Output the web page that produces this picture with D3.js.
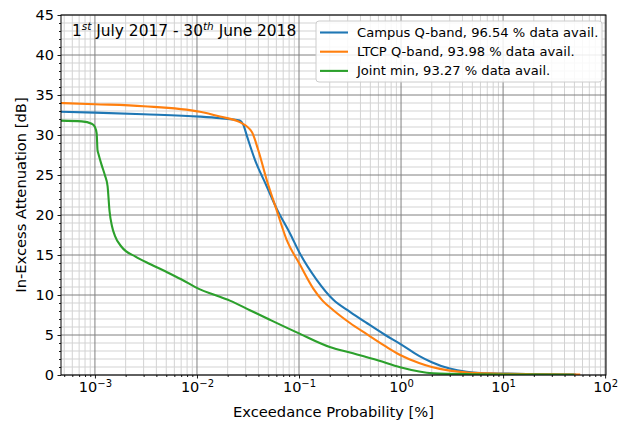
<!DOCTYPE html>
<html lang="en">
<head>
  <meta charset="UTF-8">
  <title>Exceedance</title>
  <style>
    body { margin: 0; background: #fff; }
    svg { font-family: "DejaVu Sans", sans-serif; display: block; }
  </style>
</head>
<body>
  <svg class="chart"></svg>
  <script src="https://cdn.jsdelivr.net/npm/d3@7"></script>
  <script>
    // exceedance probability [%] and attenuation [dB]
    let campusP = [4.65e-4, 0.001, 0.003, 0.0107, 0.0168, 0.0263, 0.0284, 0.0310, 0.0370, 0.0482, 0.0604, 0.0816, 0.102, 0.149, 0.217, 0.316, 0.461, 0.7, 0.98, 1.5, 2.0, 3.0, 4.4, 6, 10, 20, 52]
    let campusA = [32.9, 32.8, 32.6, 32.3, 32.1, 31.8, 31.3, 29.8, 26.9, 23.6, 20.8, 17.7, 15.2, 11.9, 9.4, 7.9, 6.5, 5.0, 3.9, 2.4, 1.6, 0.8, 0.4, 0.25, 0.18, 0.12, 0.05]

    let ltcpP = [4.65e-4, 0.001, 0.003, 0.0107, 0.0168, 0.0263, 0.0344, 0.0399, 0.0482, 0.0604, 0.0757, 0.102, 0.138, 0.17, 0.217, 0.316, 0.461, 0.7, 0.98, 1.5, 2.0, 3.0, 4.5, 7, 10, 20, 57]
    let ltcpA = [34.0, 33.85, 33.6, 32.9, 32.3, 31.6, 30.4, 28.1, 24.4, 20.6, 16.9, 13.8, 10.8, 9.3, 8.1, 6.5, 5.1, 3.6, 2.5, 1.5, 1.0, 0.55, 0.3, 0.2, 0.15, 0.1, 0.05]

    let jointP = [4.65e-4, 7.4e-4, 9.3e-4, 0.001, 0.00104, 0.00106, 0.00108, 0.00116, 0.00125, 0.00133, 0.00139, 0.00147, 0.00157, 0.00183, 0.0025, 0.0035, 0.005, 0.007, 0.0107, 0.015, 0.021, 0.033, 0.05, 0.1, 0.2, 0.316, 0.6, 0.98, 2.06, 5, 20, 50]
    let jointA = [31.8, 31.7, 31.4, 31.0, 30.2, 28.1, 27.7, 26.3, 25.0, 23.6, 20.5, 18.6, 17.4, 16.0, 14.8, 13.85, 12.9, 11.97, 10.7, 10.0, 9.3, 8.1, 7.0, 5.2, 3.5, 2.8, 1.8, 0.96, 0.2, 0.1, 0.05, 0.03]

    let seriesNames = ['Campus Q-band, 96.54 % data avail.', 'LTCP Q-band, 93.98 % data avail.', 'Joint min, 93.27 % data avail.']
    let colors = ['#1f77b4', '#ff7f0e', '#2ca02c']
    let xMajor = [1e-3, 1e-2, 1e-1, 1e0, 1e1, 1e2]
    let yMajor = [0, 5, 10, 15, 20, 25, 30, 35, 40, 45]

    let svgWidth = 626, svgHeight = 424
    let margin = { top: 15, right: 20, bottom: 49, left: 61 }
    let width = svgWidth - margin.left - margin.right
    let height = svgHeight - margin.top - margin.bottom

    let svg = d3.select('svg')
      .attr('width', svgWidth)
      .attr('height', svgHeight)

    let g = svg.append('g')
      .attr('transform', `translate(${margin.left},${margin.top})`)

    let x = d3.scaleLog().domain([4.65e-4, 102]).range([0, width])
    let y = d3.scaleLinear().domain([0, 45]).range([height, 0])

    // minor values
    let xMinor = []
    for (let e = -4; e <= 2; e++) {
      for (let m = 2; m <= 9; m++) {
        let v = m * Math.pow(10, e)
        if (v >= x.domain()[0] && v <= x.domain()[1]) xMinor.push(v)
      }
    }
    let yMinor = d3.range(0, 46).filter(v => v % 5 !== 0)

    // grid
    let grid = g.append('g')
    grid.selectAll('.vmin').data(xMinor).enter().append('line')
      .attr('x1', d => x(d)).attr('x2', d => x(d))
      .attr('y1', 0).attr('y2', height)
      .attr('stroke', '#d3d3d3').attr('stroke-width', 1)
    grid.selectAll('.hmin').data(yMinor).enter().append('line')
      .attr('x1', 0).attr('x2', width)
      .attr('y1', d => y(d)).attr('y2', d => y(d))
      .attr('stroke', '#d3d3d3').attr('stroke-width', 1)
    grid.selectAll('.vmaj').data(xMajor).enter().append('line')
      .attr('x1', d => x(d)).attr('x2', d => x(d))
      .attr('y1', 0).attr('y2', height)
      .attr('stroke', '#808080').attr('stroke-width', 1)
    grid.selectAll('.hmaj').data(yMajor).enter().append('line')
      .attr('x1', 0).attr('x2', width)
      .attr('y1', d => y(d)).attr('y2', d => y(d))
      .attr('stroke', '#808080').attr('stroke-width', 1)

    // curves
    let line = d3.line()
      .x(d => x(d[0]))
      .y(d => y(d[1]))
      .curve(d3.curveMonotoneX)

    let series = [
      d3.zip(campusP, campusA),
      d3.zip(ltcpP, ltcpA),
      d3.zip(jointP, jointA)
    ]

    g.append('defs').append('clipPath').attr('id', 'clip')
      .append('rect').attr('width', width).attr('height', height)

    g.append('g').attr('clip-path', 'url(#clip)')
      .selectAll('path').data(series).enter().append('path')
      .attr('d', line)
      .attr('fill', 'none')
      .attr('stroke', (d, i) => colors[i])
      .attr('stroke-width', 2.1)
      .attr('stroke-linejoin', 'round')

    // axes
    let xAxis = g.append('g')
      .attr('transform', `translate(0,${height})`)
      .call(d3.axisBottom(x).tickValues(xMajor).tickSize(3.5).tickPadding(3.5).tickFormat(''))
    g.append('g')
      .attr('transform', `translate(0,${height})`)
      .call(d3.axisBottom(x).tickValues(xMinor).tickSize(2).tickFormat(''))
    let yAxis = g.append('g')
      .call(d3.axisLeft(y).tickValues(yMajor).tickSize(3.5).tickPadding(3.5))
    g.append('g')
      .call(d3.axisLeft(y).tickValues(yMinor).tickSize(2).tickFormat(''))

    g.selectAll('.domain').remove()
    g.selectAll('.tick line').attr('stroke', '#000').attr('stroke-width', 0.9)

    yAxis.selectAll('text').attr('font-size', 14.5).attr('fill', '#000')
      .attr('font-family', '"DejaVu Sans", sans-serif')

    xAxis.selectAll('.tick text').each(function (d) {
      let t = d3.select(this)
        .attr('font-size', 14.5).attr('fill', '#000')
        .attr('font-family', '"DejaVu Sans", sans-serif')
        .attr('dy', '0.71em')
      t.append('tspan').text('10')
      t.append('tspan').attr('font-size', 10).attr('dy', '-0.55em')
        .text(String(Math.round(Math.log10(d))).replace('-', '\u2212'))
    })

    // frame
    g.append('rect')
      .attr('width', width).attr('height', height)
      .attr('fill', 'none').attr('stroke', '#000').attr('stroke-width', 1)

    // title
    let title = g.append('text')
      .attr('x', 11).attr('y', 21)
      .attr('font-size', 15.4).attr('fill', '#000')
    title.append('tspan').text('1')
    title.append('tspan').attr('font-size', 10.5).attr('font-style', 'italic').attr('dy', -6).text('st')
    title.append('tspan').attr('dy', 6).text(' July 2017 - 30')
    title.append('tspan').attr('font-size', 10.5).attr('font-style', 'italic').attr('dy', -6).text('th')
    title.append('tspan').attr('dy', 6).text(' June 2018')

    // legend
    let legend = g.append('g').attr('transform', `translate(${316 - margin.left},${21 - margin.top})`)
    legend.append('rect')
      .attr('width', 286).attr('height', 61).attr('rx', 3)
      .attr('fill', 'rgba(255,255,255,0.85)').attr('stroke', '#cccccc')
    seriesNames.forEach((name, i) => {
      let row = legend.append('g').attr('transform', `translate(0,${11.5 + i * 19.2})`)
      row.append('line').attr('x1', 4).attr('x2', 32)
        .attr('stroke', colors[i]).attr('stroke-width', 2.1)
      row.append('text').attr('x', 41).attr('dy', '0.35em')
        .attr('font-size', 13.1).attr('fill', '#000').text(name)
    })

    // axis labels
    svg.append('text')
      .attr('x', margin.left + width / 2).attr('y', 417)
      .attr('text-anchor', 'middle').attr('font-size', 14.7).text('Exceedance Probability [%]')
    svg.append('text')
      .attr('transform', `translate(26,${margin.top + height / 2}) rotate(-90)`)
      .attr('text-anchor', 'middle').attr('font-size', 14.7).text('In-Excess Attenuation [dB]')
  </script>
</body>
</html>
